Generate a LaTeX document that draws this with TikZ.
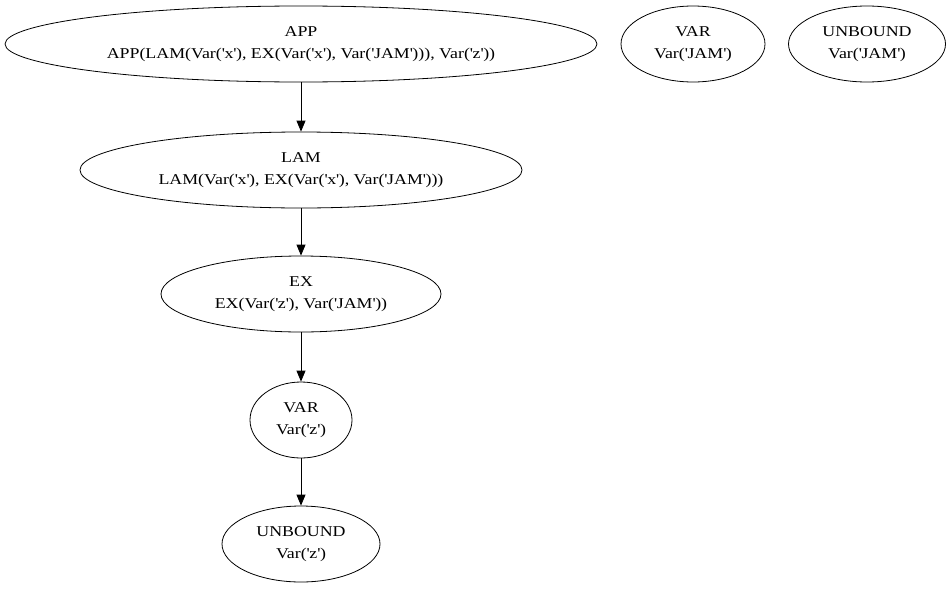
\documentclass[tikz,border=0pt]{standalone}
\usepackage{fontspec}
\setmainfont{Liberation Serif}[FakeStretch=1.19]
\usetikzlibrary{arrows.meta, shapes.geometric}

\newcommand{\Var}[1]{Var(\textquotesingle#1\textquotesingle)}

\tikzset{
	astnode/.style={draw, ellipse, inner sep=0pt, align=center,
	  font=\fontsize{15}{21.5}\selectfont,
	  execute at begin node={\rule{0pt}{15pt}}},
	astedge/.style={-{Triangle[length=11pt,width=9pt]}, line width=0.8pt}
}

\begin{document}
\begin{tikzpicture}[x=1pt, y=-1pt, line width=0.8pt]
	\useasboundingbox (0,0) rectangle (952,589);
	% main chain
	\node[astnode, minimum width=592pt, minimum height=76pt] (app) at (301,44)
	  {APP\\APP(LAM(\Var{x}, EX(\Var{x}, \Var{JAM})), \Var{z})};
	\node[astnode, minimum width=442pt, minimum height=76pt] (lam) at (301,170)
	  {LAM\\LAM(\Var{x}, EX(\Var{x}, \Var{JAM}))};
	\node[astnode, minimum width=280pt, minimum height=76pt] (ex) at (301,294)
	  {EX\\EX(\Var{z}, \Var{JAM})};
	\node[astnode, minimum width=102pt, minimum height=76pt] (varz) at (301,420)
	  {VAR\\\Var{z}};
	\node[astnode, minimum width=158pt, minimum height=76pt] (unboundz) at (301,544)
	  {UNBOUND\\\Var{z}};
	% lonely ones
	\node[astnode, minimum width=144pt, minimum height=76pt] (varjam) at (693,44)
	  {VAR\\\Var{JAM}};
	\node[astnode, minimum width=157pt, minimum height=76pt] (unboundjam) at (867,44)
	  {UNBOUND\\\Var{JAM}};
	\draw[astedge] (app) -- (lam);
	\draw[astedge] (lam) -- (ex);
	\draw[astedge] (ex) -- (varz);
	\draw[astedge] (varz) -- (unboundz);
\end{tikzpicture}
\end{document}
